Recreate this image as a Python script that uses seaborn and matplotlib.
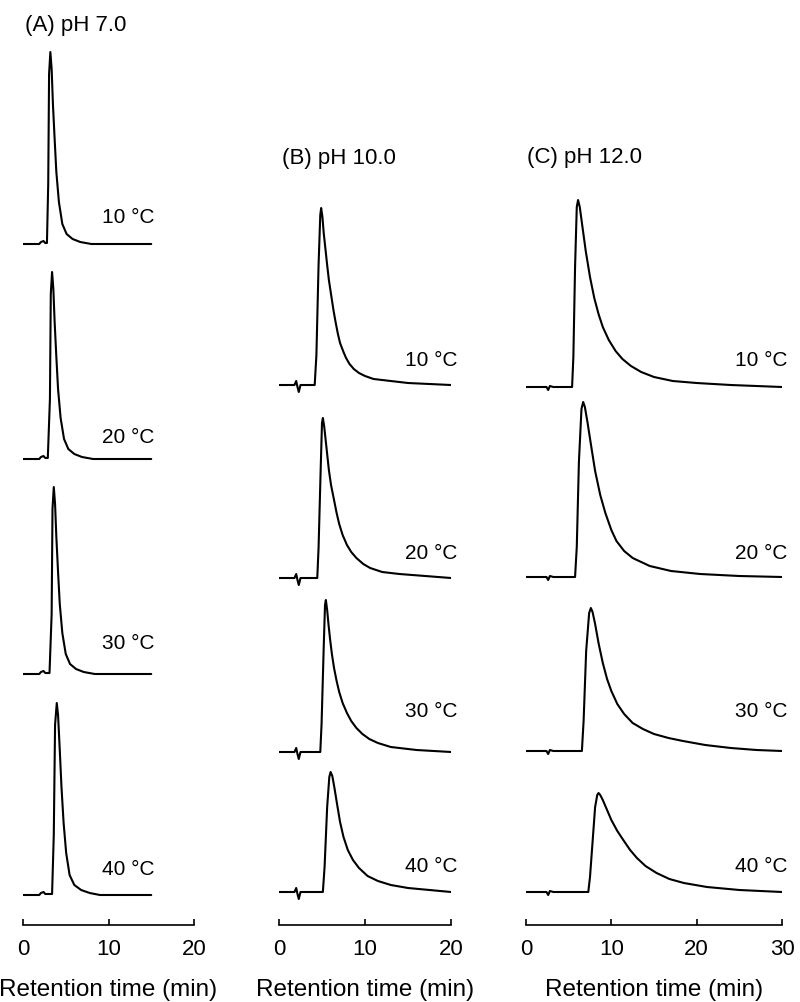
import matplotlib
matplotlib.use("Agg")
import matplotlib.pyplot as plt
import seaborn as sns
import pandas as pd

# retention time (min) / detector signal
# panel A, pH 7.0
a10_t = [0, 1.9, 2.1, 2.4, 2.6, 2.8, 2.95, 3.05, 3.2, 3.35, 3.5, 3.7, 3.9, 4.2, 4.6, 5.1, 5.8, 6.7, 8.0, 15.0]
a10_h = [0, 0, 2, 3, 1, 1, 60, 170, 192, 175, 140, 105, 72, 42, 20, 10, 5, 2, 0, 0]
a20_t = [0, 1.9, 2.1, 2.4, 2.6, 2.9, 3.15, 3.25, 3.4, 3.55, 3.7, 3.9, 4.1, 4.4, 4.8, 5.3, 6.0, 6.9, 8.2, 15.0]
a20_h = [0, 0, 2, 3, 1, 1, 60, 165, 187, 170, 137, 102, 70, 41, 20, 10, 5, 2, 0, 0]
a30_t = [0, 1.9, 2.1, 2.4, 2.6, 3.1, 3.35, 3.45, 3.6, 3.75, 3.9, 4.1, 4.3, 4.6, 5.0, 5.5, 6.2, 7.1, 8.4, 15.0]
a30_h = [0, 0, 2, 3, 1, 1, 60, 165, 187, 170, 137, 102, 70, 41, 20, 10, 5, 2, 0, 0]
a40_t = [0, 1.9, 2.1, 2.4, 2.6, 3.4, 3.6, 3.75, 3.95, 4.1, 4.3, 4.5, 4.75, 5.05, 5.45, 6.0, 6.8, 7.8, 9.0, 15.0]
a40_h = [0, 0, 2, 3, 1, 1, 60, 170, 192, 180, 145, 108, 72, 42, 20, 10, 5, 2, 0, 0]

# panel B, pH 10.0
b10_t = [0, 1.8, 2.0, 2.15, 2.3, 2.5, 2.8, 4.15, 4.35, 4.6, 4.8, 4.9, 5.05, 5.2, 5.4, 5.6, 5.8, 6.1, 6.35, 6.6,
         6.85, 7.1, 7.5, 7.8, 8.2, 8.7, 9.3, 10.0, 11.0, 12.0, 15.0, 20.0]
b10_h = [0, 0, 4, -2, -7, 0, 0, 0, 30, 120, 170, 177, 168, 152, 136, 120, 105, 88, 74, 62,
         51, 42, 33, 27, 21, 16, 12, 9, 6, 5, 2, 0]
b20_t = [0, 1.8, 2.0, 2.15, 2.3, 2.5, 2.8, 4.45, 4.6, 4.85, 5.0, 5.1, 5.25, 5.4, 5.6, 5.8, 6.05, 6.4, 6.7, 7.0,
         7.4, 7.9, 8.4, 9.0, 9.8, 10.6, 12.0, 14.0, 17.0, 20.0]
b20_h = [0, 0, 4, -2, -7, 0, 0, 0, 30, 110, 155, 160, 152, 140, 124, 108, 93, 78, 65, 54,
         43, 33, 26, 20, 14, 10, 6, 4, 2, 0]
b30_t = [0, 1.8, 2.0, 2.15, 2.3, 2.5, 2.8, 4.8, 4.95, 5.2, 5.35, 5.45, 5.6, 5.75, 5.95, 6.15, 6.4, 6.7, 7.0, 7.4,
         7.9, 8.4, 9.0, 9.7, 10.5, 11.5, 13.0, 16.0, 20.0]
b30_h = [0, 0, 4, -2, -7, 0, 0, 0, 28, 105, 147, 152, 142, 128, 112, 98, 84, 71, 60, 49,
         39, 31, 24, 18, 13, 9, 5, 2, 0]
b40_t = [0, 1.8, 2.0, 2.15, 2.3, 2.5, 2.8, 5.1, 5.3, 5.6, 5.85, 6.0, 6.2, 6.45, 6.75, 7.1, 7.5, 8.0, 8.6, 9.3,
         10.3, 11.5, 13.0, 15.0, 17.5, 20.0]
b40_h = [0, 0, 4, -2, -7, 0, 0, 0, 25, 85, 115, 120, 116, 104, 88, 70, 55, 42, 32, 24,
         16, 11, 7, 4, 2, 0]

# panel C, pH 12.0
c10_t = [0, 2.4, 2.6, 2.8, 3.2, 5.4, 5.55, 5.75, 5.95, 6.1, 6.3, 6.65, 7.0, 7.5, 8.0, 8.5, 9.0, 9.7, 10.5, 11.3,
         12.3, 13.5, 15.0, 17.2, 20.0, 24.0, 30.0]
c10_h = [0, 0, -3, 1, 0, 0, 30, 120, 180, 187, 180, 158, 136, 110, 89, 73, 60, 47, 36, 28,
         21, 15, 10, 6, 4, 2, 0]
c20_t = [0, 2.4, 2.6, 2.8, 3.2, 5.75, 5.95, 6.2, 6.5, 6.7, 6.9, 7.2, 7.6, 8.1, 8.7, 9.3, 10.0, 10.6, 11.5, 12.5,
         14.5, 17.0, 20.4, 25.0, 30.0]
c20_h = [0, 0, -3, 1, 0, 0, 30, 115, 168, 175, 170, 155, 133, 106, 82, 64, 47, 36, 26, 19,
         11, 6, 3, 1, 0]
c30_t = [0, 2.4, 2.6, 2.8, 3.2, 6.55, 6.75, 7.05, 7.4, 7.6, 7.8, 8.1, 8.5, 9.0, 9.5, 10.0, 10.7, 11.5, 12.5, 13.7,
         15.0, 16.7, 18.4, 21.0, 24.0, 27.0, 30.0]
c30_h = [0, 0, -3, 1, 0, 0, 30, 100, 138, 143, 139, 127, 108, 88, 72, 60, 47, 37, 28, 22,
         17, 13, 10, 6, 3, 1, 0]
c40_t = [0, 2.4, 2.6, 2.8, 3.2, 7.3, 7.5, 7.8, 8.1, 8.35, 8.5, 8.7, 9.0, 9.5, 10.0, 10.7, 11.4, 12.2, 13.0, 14.0,
         15.3, 16.8, 18.5, 21.2, 25.0, 30.0]
c40_h = [0, 0, -3, 1, 0, 0, 15, 50, 85, 97, 99, 97, 92, 82, 72, 61, 52, 42, 34, 26,
         19, 13, 9, 5, 2, 0]

temps = ["10 \u00b0C", "20 \u00b0C", "30 \u00b0C", "40 \u00b0C"]
titles = ["(A) pH 7.0", "(B) pH 10.0", "(C) pH 12.0"]
xmax = [20, 20, 30]
xticks = [[0, 10, 20], [0, 10, 20], [0, 10, 20, 30]]

traces = [
    [(a10_t, a10_h), (a20_t, a20_h), (a30_t, a30_h), (a40_t, a40_h)],
    [(b10_t, b10_h), (b20_t, b20_h), (b30_t, b30_h), (b40_t, b40_h)],
    [(c10_t, c10_h), (c20_t, c20_h), (c30_t, c30_h), (c40_t, c40_h)],
]

# vertical stacking of the traces (baseline of each run)
baselines = [[681, 466, 251, 30], [540, 347, 173, 33], [538, 348, 174, 33]]
label_y = [[708, 488, 282, 55], [565, 372, 213, 58], [565, 372, 213, 58]]
label_x = [15.4, 20.7, 30.6]
title_xy = [(0.2, 900), (0.35, 767), (0.1, 768)]

sns.set_style("white")
plt.rcParams['font.family'] = ['Liberation Sans', 'DejaVu Sans']
plt.rcParams['text.color'] = 'black'

fig = plt.figure(figsize=(8, 10.02), dpi=100)
boxes = [[0.02875, 0.07685, 0.21375, 0.8932],
         [0.34875, 0.07685, 0.215, 0.8932],
         [0.6575, 0.07685, 0.32, 0.8932]]

for p in range(3):
    ax = fig.add_axes(boxes[p])
    for k, (t, h) in enumerate(traces[p]):
        df = pd.DataFrame({'time': t, 'signal': [v + baselines[p][k] for v in h]})
        sns.lineplot(data=df, x='time', y='signal', ax=ax, color='black',
                     lw=1.5, sort=False, estimator=None)
        ax.text(label_x[p], label_y[p][k], temps[k], ha='right', va='center',
                fontsize=15, color='black')
    ax.text(title_xy[p][0], title_xy[p][1], titles[p], ha='left', va='center',
            fontsize=16, color='black')
    ax.set_xlim(0, xmax[p])
    ax.set_ylim(0, 895)
    ax.set_xticks(xticks[p])
    ax.set_yticks([])
    ax.set_ylabel('')
    ax.set_xlabel('Retention time (min)', fontsize=17.5, color='black')
    ax.xaxis.set_label_coords(0.5, -0.06)
    for s in ['top', 'right', 'left']:
        ax.spines[s].set_visible(False)
    ax.spines['bottom'].set_linewidth(1.2)
    ax.spines['bottom'].set_color('black')
    ax.tick_params(axis='x', bottom=True, direction='in', length=4.5, width=1.2,
                   labelsize=16, pad=10, colors='black')
    ax.set_facecolor('none')

fig.savefig('out.png', dpi=100)
